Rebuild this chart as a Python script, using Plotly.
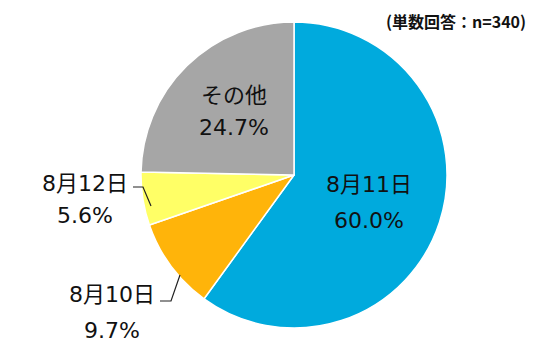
import plotly.graph_objects as go

labels = ["8月11日", "8月10日", "8月12日", "その他"]
values = [60.0, 9.7, 5.6, 24.7]
colors = ["#00AADD", "#FFB40A", "#FFFF66", "#A6A6A6"]
note = "(単数回答：n=340)"

W, H = 540, 360
FONT = "DejaVu Sans, Noto Sans CJK JP, sans-serif"

fig = go.Figure(go.Pie(
    labels=labels, values=values, sort=False, direction="clockwise", rotation=0,
    marker=dict(colors=colors, line=dict(color="white", width=1.5)),
    textinfo="none", hoverinfo="label+percent", showlegend=False,
    domain=dict(x=[133 / W, 439 / W], y=[1 - 320 / H, 1 - 14 / H]),
))

# label pixel positions (center x, name y, pct y)
label_pos = {
    "8月11日": (361, 176, 212),
    "8月10日": (104, 286, 322),
    "8月12日": (77, 175, 208),
    "その他": (226, 87, 120),
}
annotations = []
for lab, val in zip(labels, values):
    x, y1, y2 = label_pos[lab]
    for txt, yy in ((lab, y1), (f"{val:.1f}%", y2)):
        annotations.append(dict(
            x=x / W, y=1 - yy / H, xref="paper", yref="paper", text=txt,
            showarrow=False, xanchor="center", yanchor="middle",
            font=dict(family=FONT, size=22, color="#111111"),
        ))
annotations.append(dict(
    x=520 / W, y=1 - 13 / H, xref="paper", yref="paper", text=f"<b>{note}</b>",
    showarrow=False, xanchor="right", yanchor="middle",
    font=dict(family="Noto Sans CJK JP, sans-serif", size=16, color="#111111"),
))

leaders = [
    [(125, 179), (135, 179), (143, 198)],
    [(152, 293), (163, 293), (172, 267)],
]
shapes = []
for pts in leaders:
    path = "M " + " L ".join(f"{x / W},{1 - y / H}" for x, y in pts)
    shapes.append(dict(type="path", xref="paper", yref="paper", path=path,
                       line=dict(color="#222222", width=1.2)))

fig.update_layout(
    width=W, height=H, margin=dict(l=0, r=0, t=0, b=0),
    paper_bgcolor="white", plot_bgcolor="white",
    annotations=annotations, shapes=shapes,
)
fig.write_html("out.html")
